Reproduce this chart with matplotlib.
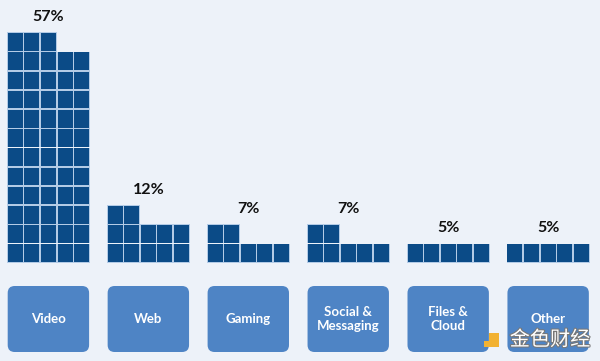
import matplotlib
matplotlib.use("Agg")
import matplotlib.pyplot as plt
import matplotlib.patheffects as pe
from matplotlib.patches import Rectangle, FancyBboxPatch

categories = ["Video", "Web", "Gaming", "Social &\nMessaging", "Files &\nCloud", "Other"]
percent_labels = ["57%", "12%", "7%", "7%", "5%", "5%"]
squares = [58, 12, 7, 7, 5, 5]

W, H = 600, 361
fig = plt.figure(figsize=(W / 100, H / 100), dpi=100)
fig.patch.set_facecolor("#edf2f9")
ax = fig.add_axes([0, 0, 1, 1])
ax.set_xlim(0, W)
ax.set_ylim(H, 0)
ax.axis("off")
ax.set_facecolor("#edf2f9")

FONT = ["Lato", "DejaVu Sans"]
cols = 5
group_left = 7.7
group_pitch = 99.95
cw, ch = 16.6, 19.2
gap = 1.6
bottom = 263.5
sq_color = "#0b4b87"
gap_color = "#b3cbe6"
box_color = "#4e84c5"

for i, (cat, lab, n) in enumerate(zip(categories, percent_labels, squares)):
    x0 = group_left + i * group_pitch
    nrows = 0
    for k in range(n):
        r = k // cols
        c = k % cols
        nrows = r + 1
        ax.add_patch(Rectangle((x0 + c * cw - gap * 0.5, bottom - (r + 1) * ch - gap * 0.5),
                               cw, ch, facecolor=gap_color, edgecolor="none", zorder=1))
    for k in range(n):
        r = k // cols
        c = k % cols
        ax.add_patch(Rectangle((x0 + c * cw, bottom - (r + 1) * ch),
                               cw - gap, ch - gap, facecolor=sq_color,
                               edgecolor="none", zorder=2))
    top = bottom - nrows * ch
    gw = cols * cw - gap
    ax.text(x0 + gw / 2, top - 16, lab, ha="center", va="center",
            fontsize=11.5, fontweight="bold", color="#111111", family=FONT)
    ax.add_patch(FancyBboxPatch((x0, 286), gw, 66,
                                boxstyle="round,pad=0,rounding_size=7",
                                facecolor=box_color, edgecolor="none"))
    ax.text(x0 + gw / 2, 319, cat, ha="center", va="center",
            fontsize=9.5, fontweight="bold", color="white", family=FONT,
            linespacing=1.25)

# watermark
ax.add_patch(Rectangle((489, 333), 10, 14, facecolor="#f2b233", edgecolor="none", zorder=5))
ax.add_patch(Rectangle((484, 341), 5, 6, facecolor="#f2b233", edgecolor="none", zorder=5))
ax.text(550, 340, "金色财经", ha="center", va="center", fontsize=14.5,
        color="white", family=["Noto Sans CJK SC", "DejaVu Sans"], zorder=5,
        path_effects=[pe.withStroke(linewidth=1.5, foreground="#777777")])

fig.savefig("out.png", dpi=100, facecolor=fig.get_facecolor())
